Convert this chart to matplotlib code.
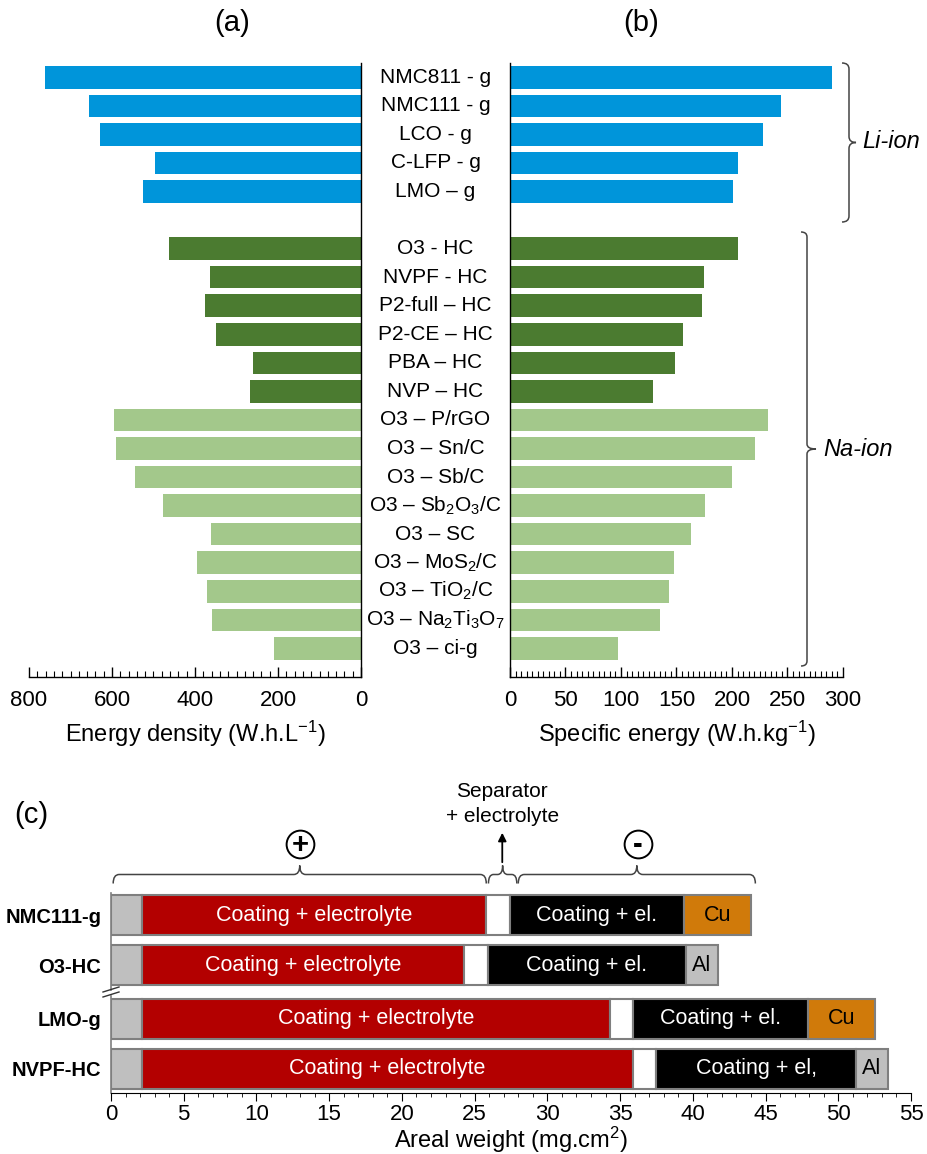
import matplotlib
matplotlib.use("Agg")
import matplotlib.pyplot as plt
import numpy as np
from matplotlib.path import Path
from matplotlib.patches import PathPatch
from matplotlib import transforms
from matplotlib.ticker import MultipleLocator

plt.rcParams['font.family'] = ['Liberation Sans', 'DejaVu Sans']
plt.rcParams['mathtext.fontset'] = 'custom'
plt.rcParams['mathtext.rm'] = 'Liberation Sans'
plt.rcParams['mathtext.it'] = 'Liberation Sans:italic'
plt.rcParams['mathtext.bf'] = 'Liberation Sans:bold'
plt.rcParams['mathtext.default'] = 'rm'

# ---------------- data ----------------
cells = ['NMC811 - g', 'NMC111 - g', 'LCO - g', 'C-LFP - g', 'LMO – g',
         'O3 - HC', 'NVPF - HC', 'P2-full – HC', 'P2-CE – HC', 'PBA – HC', 'NVP – HC',
         'O3 – P/rGO', 'O3 – Sn/C', 'O3 – Sb/C', 'O3 – Sb$_2$O$_3$/C', 'O3 – SC',
         'O3 – MoS$_2$/C', 'O3 – TiO$_2$/C', 'O3 – Na$_2$Ti$_3$O$_7$', 'O3 – ci-g']
groups = ['Li'] * 5 + ['NaHC'] * 6 + ['NaO3'] * 9
energy_density = [761, 656, 629, 496, 526,
                  462, 364, 375, 349, 261, 267,
                  596, 590, 545, 478, 361, 396, 370, 359, 210]
specific_energy = [290, 244, 228, 205, 201,
                   205, 175, 173, 156, 149, 129,
                   232, 221, 200, 176, 163, 148, 143, 135, 97]

cell_c = ['NMC111-g', 'O3-HC', 'LMO-g', 'NVPF-HC']
pos_cc = [2.1, 2.1, 2.1, 2.1]
pos_coating = [23.7, 22.2, 32.2, 33.8]
separator = [1.6, 1.6, 1.6, 1.6]
neg_coating = [12.0, 13.6, 12.0, 13.7]
neg_cc = [4.6, 2.2, 4.6, 2.2]
neg_cc_name = ['Cu', 'Al', 'Cu', 'Al']
neg_text = ['Coating + el.', 'Coating + el.', 'Coating + el.', 'Coating + el,']

# ---------------- style ----------------
group_color = {'Li': '#0095DA', 'NaHC': '#4B7B30', 'NaO3': '#A3C88B'}
W, H = 928, 1154
fig = plt.figure(figsize=(W / 100, H / 100), dpi=100)


def fx(x):
    return x / W


def fy(y):
    return 1 - y / H


def axbox(l, r, t, b):
    return [fx(l), fy(b), (r - l) / W, (b - t) / H]


ax_a = fig.add_axes(axbox(29, 361, 63, 677))
ax_b = fig.add_axes(axbox(510, 843, 63, 677))
ax_c = fig.add_axes(axbox(111, 911, 893, 1093))

rows = list(range(5)) + list(range(6, 21))
cols = [group_color[g] for g in groups]

ax_a.barh(rows, energy_density, height=0.79, color=cols)
ax_b.barh(rows, specific_energy, height=0.79, color=cols)

ax_a.set_xlim(800, 0)
ax_b.set_xlim(0, 300)
for ax in (ax_a, ax_b):
    ax.set_ylim(21.0, -0.5)
    ax.set_yticks([])
    ax.spines['top'].set_visible(False)
    ax.tick_params(axis='x', which='both', direction='in', labelsize=16, pad=9, width=1)
    ax.tick_params(axis='x', which='major', length=7)
    ax.tick_params(axis='x', which='minor', length=4, width=0.8)
    for s in ax.spines.values():
        s.set_linewidth(1.0)
ax_a.spines['left'].set_visible(False)
ax_b.spines['right'].set_visible(False)
ax_a.xaxis.set_major_locator(MultipleLocator(200))
ax_a.xaxis.set_minor_locator(MultipleLocator(20))
ax_b.xaxis.set_major_locator(MultipleLocator(50))
ax_b.xaxis.set_minor_locator(MultipleLocator(5))
ax_a.set_xlabel('Energy density (W.h.L$^{-1}$)', fontsize=17, labelpad=6)
ax_b.set_xlabel('Specific energy (W.h.kg$^{-1}$)', fontsize=17, labelpad=6)

# middle labels
mid = transforms.blended_transform_factory(fig.transFigure, ax_a.transData)
for r, lab in zip(rows, cells):
    ax_a.text(fx(435.5), r, lab, transform=mid, ha='center', va='center',
              fontsize=15, clip_on=False)

fig.text(fx(232), fy(23), '(a)', ha='center', va='center', fontsize=21)
fig.text(fx(641), fy(23), '(b)', ha='center', va='center', fontsize=21)
fig.text(fx(31), fy(815), '(c)', ha='center', va='center', fontsize=21)


def brace(p0, p1, normal, h, c, r, color='#444444', lw=1.1):
    p0 = np.array(p0, float)
    p1 = np.array(p1, float)
    L = np.linalg.norm(p1 - p0)
    e = (p1 - p0) / L
    n = np.array(normal, float)
    loc = [(0, -c), (0, 0), (r, 0), (L / 2 - r, 0), (L / 2, 0), (L / 2, h),
           (L / 2, 0), (L / 2 + r, 0), (L - r, 0), (L, 0), (L, -c)]
    codes = [Path.MOVETO, Path.CURVE3, Path.CURVE3, Path.LINETO, Path.CURVE3,
             Path.CURVE3, Path.CURVE3, Path.CURVE3, Path.LINETO, Path.CURVE3, Path.CURVE3]
    pts = [p0 + u * e + v * n for u, v in loc]
    pts = [(fx(p[0]), fy(p[1])) for p in pts]
    fig.add_artist(PathPatch(Path(pts, codes), transform=fig.transFigure,
                             fill=False, edgecolor=color, lw=lw))


brace((849, 63), (849, 222), (1, 0), 7, 7, 6)
brace((807, 232), (807, 666), (1, 0), 9, 6, 5)
fig.text(fx(862), fy(141), 'Li-ion', ha='left', va='center', fontsize=17, style='italic')
fig.text(fx(823), fy(449), 'Na-ion', ha='left', va='center', fontsize=17, style='italic')

# ---------------- panel (c) ----------------
ypos = [0, 1, 2.07, 3.07]
bh = 0.8
ec = '#7F7F7F'
left = np.zeros(4)
seg_sets = [
    (pos_cc, ['#BFBFBF'] * 4),
    (pos_coating, ['#B30000'] * 4),
    (separator, ['#FFFFFF'] * 4),
    (neg_coating, ['#000000'] * 4),
    (neg_cc, ['#D07A0A' if n == 'Cu' else '#BFBFBF' for n in neg_cc_name]),
]
lefts = []
for vals, colors in seg_sets:
    ax_c.barh(ypos, vals, left=left, height=bh, color=colors, edgecolor=ec, linewidth=1.5)
    lefts.append(left.copy())
    left = left + np.array(vals)

for i in range(4):
    ax_c.text(lefts[1][i] + pos_coating[i] / 2, ypos[i], 'Coating + electrolyte',
              color='white', ha='center', va='center', fontsize=15.5)
    ax_c.text(lefts[3][i] + neg_coating[i] / 2, ypos[i], neg_text[i],
              color='white', ha='center', va='center', fontsize=15.5)
    ax_c.text(lefts[4][i] + neg_cc[i] / 2, ypos[i], neg_cc_name[i],
              color='black', ha='center', va='center', fontsize=15.5)

ax_c.set_xlim(0, 55)
ax_c.set_ylim(3.55, -0.44)
ax_c.set_yticks(ypos)
ax_c.set_yticklabels(cell_c, fontsize=14.5, fontweight='bold')
ax_c.tick_params(axis='y', length=0, pad=7)
ax_c.xaxis.set_major_locator(MultipleLocator(5))
ax_c.xaxis.set_minor_locator(MultipleLocator(1))
ax_c.tick_params(axis='x', which='major', direction='out', length=6, labelsize=16, pad=2)
ax_c.tick_params(axis='x', which='minor', direction='out', length=3)
for s in ('top', 'right', 'left'):
    ax_c.spines[s].set_visible(False)
ax_c.set_xlabel('Areal weight (mg.cm$^{2}$)', fontsize=17, labelpad=0)

# left spine with break
yb = transforms.blended_transform_factory(ax_c.transData, fig.transFigure)
ax_c.plot([0, 0], [fy(893), fy(990)], transform=yb, color=ec, lw=1.2, clip_on=False)
ax_c.plot([0, 0], [fy(996), fy(1093)], transform=yb, color=ec, lw=1.2, clip_on=False)
fig.add_artist(plt.Line2D([fx(103), fx(119)], [fy(992), fy(987)], color='#333333', lw=1))
fig.add_artist(plt.Line2D([fx(103), fx(119)], [fy(997), fy(992)], color='#333333', lw=1))


def dx(v):
    return ax_c.transData.transform((v, 0))[0]


by = 874.5
brace((dx(0.15), by), (dx(25.8), by), (0, -1), 9, 9, 6)
brace((dx(25.95), by), (dx(27.9), by), (0, -1), 9, 9, 5)
brace((dx(28.0), by), (dx(44.3), by), (0, -1), 9, 9, 6)

for xv, sym in ((13.0, '+'), (36.2, '-')):
    ax_c.plot([xv], [fy(844)], transform=yb, marker='o', ms=20, mfc='white',
              mec='black', mew=1.4, clip_on=False)
    ax_c.text(xv, fy(845), sym, transform=yb, ha='center', va='center',
              fontsize=21, fontweight='bold')

ax_c.annotate('', xy=(26.9, fy(830)), xytext=(26.9, fy(865)), xycoords=yb, textcoords=yb,
              arrowprops=dict(arrowstyle='-|>', color='black', lw=1.3, mutation_scale=12))
ax_c.text(26.9, fy(804), 'Separator\n+ electrolyte', transform=yb, ha='center',
          va='center', fontsize=15, linespacing=1.35)

fig.savefig('out.png', dpi=100)
